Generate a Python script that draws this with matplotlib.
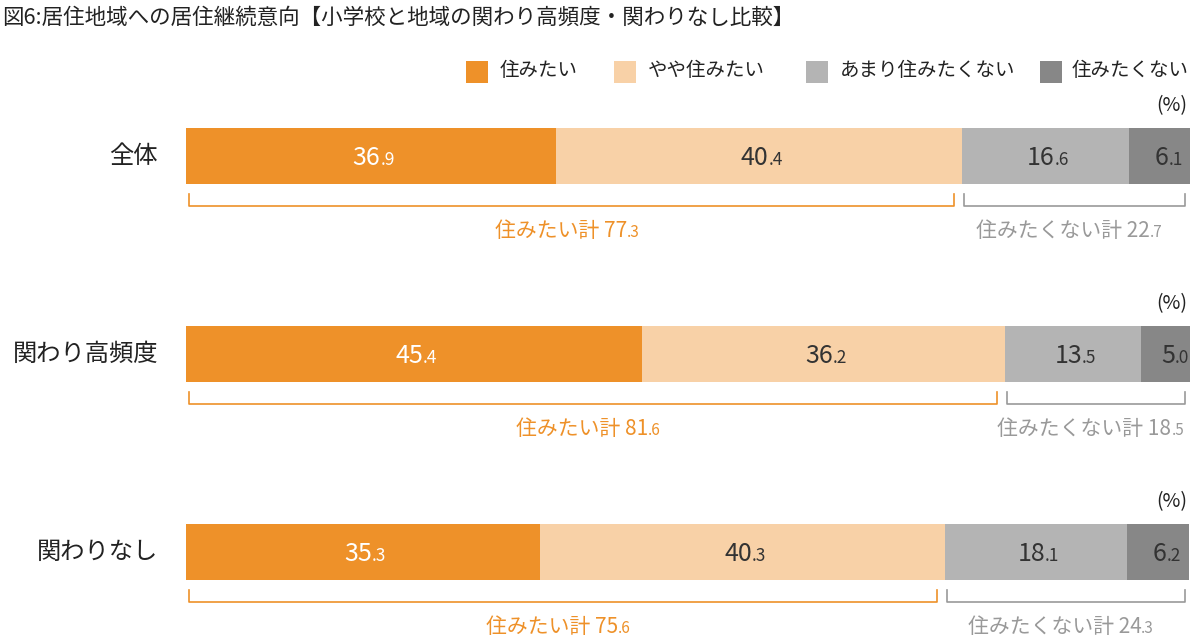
import matplotlib
matplotlib.use("Agg")
import matplotlib.pyplot as plt
from matplotlib.patches import Rectangle

plt.rcParams['font.family'] = ['Noto Sans CJK JP', 'DejaVu Sans']

title = "図6:居住地域への居住継続意向【小学校と地域の関わり高頻度・関わりなし比較】"
categories = ["全体", "関わり高頻度", "関わりなし"]
series_names = ["住みたい", "やや住みたい", "あまり住みたくない", "住みたくない"]
values = [
    [36.9, 40.4, 16.6, 6.1],
    [45.4, 36.2, 13.5, 5.0],
    [35.3, 40.3, 18.1, 6.2],
]
want_totals = [77.3, 81.6, 75.6]
notwant_totals = [22.7, 18.5, 24.3]
colors = ["#EE9129", "#F8D1A7", "#B4B4B4", "#878787"]
text_colors = ["white", "#333333", "#333333", "#333333"]

W, H = 1201, 641
fig = plt.figure(figsize=(W/100, H/100), dpi=100)
x0, x1 = 186, 1190
ax = fig.add_axes([x0/W, 0, (x1-x0)/W, 1])
ax.set_xlim(0, 100)
ax.set_ylim(H, 0)
ax.axis('off')

def px2d(px):
    return (px - x0) / (x1 - x0) * 100

def num_text(x, y, v, color, big=18, small=12.5):
    s = f"{v:.1f}"
    ip, dp = s.split(".")
    ax.text(x + 0.9, y, ip, ha='right', va='baseline', fontsize=big, color=color, clip_on=False)
    ax.text(x + 0.9, y, "." + dp, ha='left', va='baseline', fontsize=small, color=color, clip_on=False)

row_y = [156, 354, 552]
for i, cat in enumerate(categories):
    y = row_y[i]
    left = 0
    for j, v in enumerate(values[i]):
        ax.barh(y, v, left=left, height=56, color=colors[j], linewidth=0)
        num_text(left + v/2, y + 9, v, text_colors[j])
        left += v
    ax.text(px2d(158), y, cat, ha='right', va='center', fontsize=17.5, color='#222222', clip_on=False)
    ax.text(px2d(1172), y - 50, "(%)", ha='center', va='center', fontsize=14, color='#222222', clip_on=False)
    by = y + 50
    w = want_totals[i]
    for (a, b, c, tot) in [(0.3, w - 0.8, colors[0], w), (w + 0.2, 99.5, "#999999", notwant_totals[i])]:
        ax.plot([a, a, b, b], [by - 12, by, by, by - 12], color=c, lw=1.2, clip_on=False)
        mid = (a + b) / 2
        lab = "住みたい計 " if c == colors[0] else "住みたくない計 "
        s = f"{tot:.1f}"
        ip, dp = s.split(".")
        off = 5.5 if c == colors[0] else 7.5
        ax.text(mid + off, by + 31, lab + ip, ha='right', va='baseline', fontsize=15, color=c, clip_on=False)
        ax.text(mid + off, by + 31, "." + dp, ha='left', va='baseline', fontsize=11, color=c, clip_on=False)

fig.text(2/W, 1 - 18/H, title, ha='left', va='center', fontsize=15.5, color='#222222')

leg = [(466, 500), (614, 648), (806, 840), (1040, 1072)]
for j, (sx, tx) in enumerate(leg):
    fig.patches.append(Rectangle((sx/W, 1 - 83/H), 22/W, 22/H, transform=fig.transFigure,
                                 color=colors[j], linewidth=0))
    fig.text(tx/W, 1 - 71/H, series_names[j], ha='left', va='center', fontsize=14, color='#222222')

fig.savefig("out.png", dpi=100)
